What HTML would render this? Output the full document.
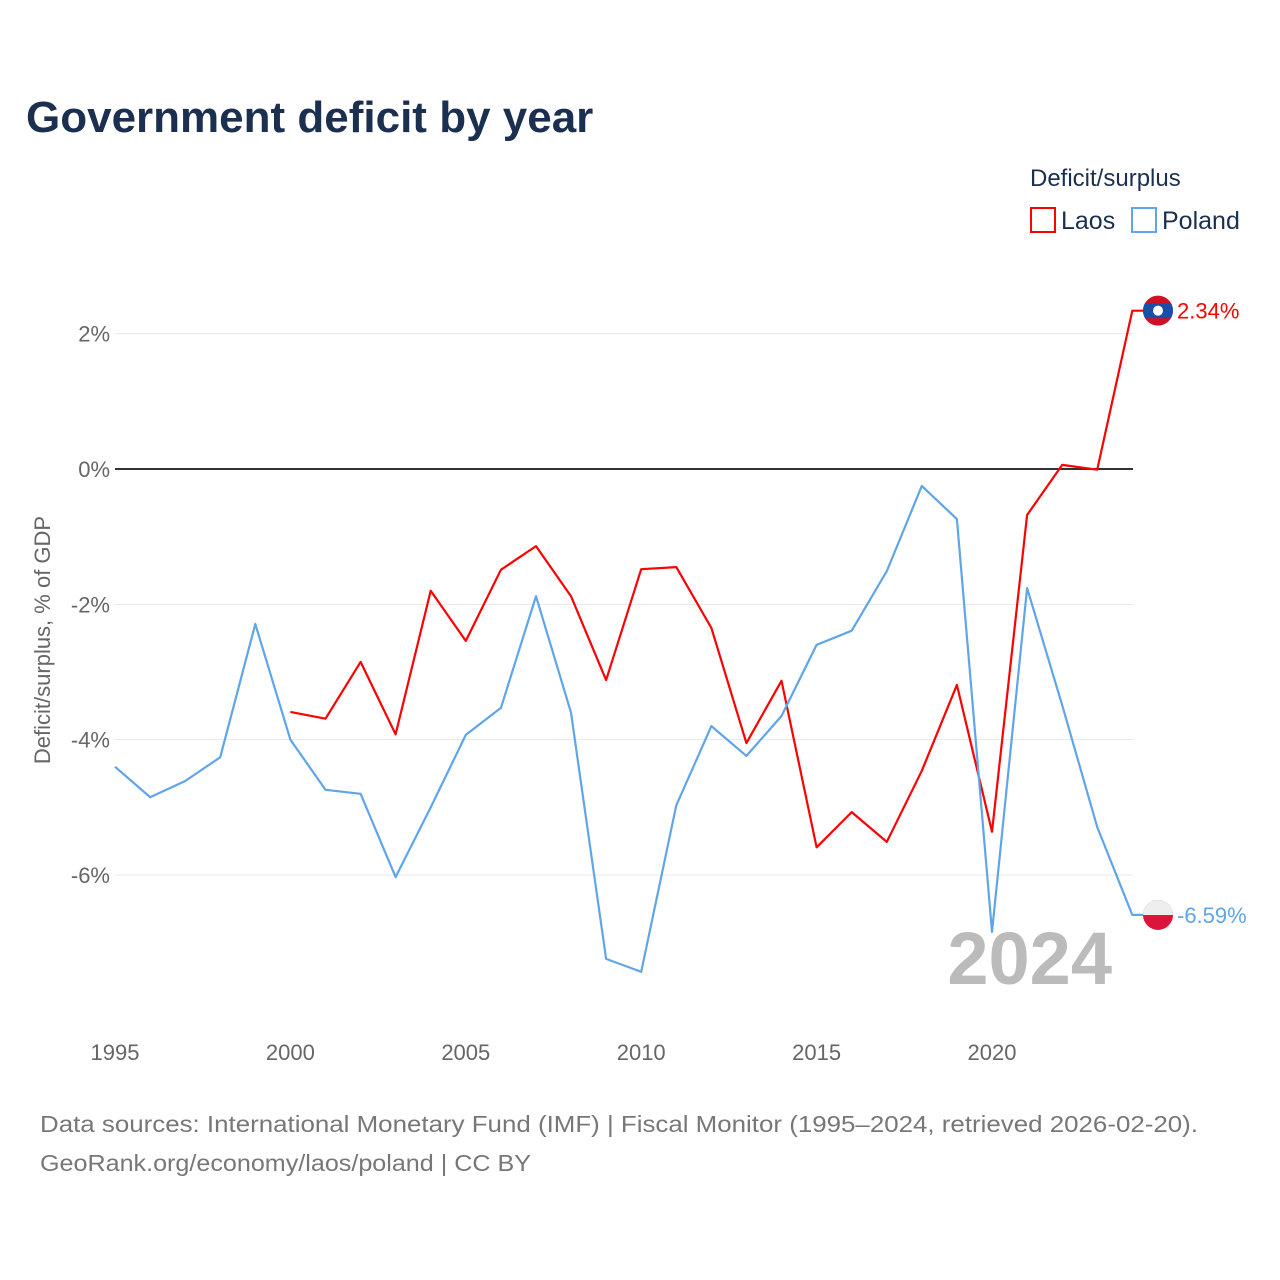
<!DOCTYPE html>
<html><head><meta charset="utf-8"><style>
body{margin:0;background:#fff;font-family:"Liberation Sans",sans-serif;}
#wrap{position:relative;width:1280px;height:1280px;overflow:hidden}
</style></head><body>
<div id="wrap">
<svg id="chart" width="1280" height="1280"></svg>
</div>
<script>
const years = [1995,1996,1997,1998,1999,2000,2001,2002,2003,2004,2005,2006,2007,2008,2009,2010,2011,2012,2013,2014,2015,2016,2017,2018,2019,2020,2021,2022,2023,2024];
const poland = [-4.40,-4.85,-4.61,-4.26,-2.29,-4.00,-4.74,-4.80,-6.03,-5.00,-3.93,-3.53,-1.88,-3.60,-7.24,-7.43,-4.97,-3.80,-4.24,-3.65,-2.60,-2.39,-1.51,-0.25,-0.74,-6.84,-1.76,-3.49,-5.29,-6.59];
const laos = [null,null,null,null,null,-3.59,-3.69,-2.85,-3.92,-1.80,-2.54,-1.49,-1.14,-1.88,-3.12,-1.48,-1.45,-2.35,-4.05,-3.13,-5.59,-5.07,-5.51,-4.46,-3.19,-5.36,-0.68,0.06,-0.01,2.34];
const yTicks = [2,0,-2,-4,-6];
const yTickLabels = ["2%","0%","-2%","-4%","-6%"];
const xTicks = [1995,2000,2005,2010,2015,2020];

const NS="http://www.w3.org/2000/svg";
const svg=document.getElementById('chart');
const X=y=>115+(y-1995)*35.08;
const Y=v=>469-v*67.67;
function mk(tag,attrs,text){const e=document.createElementNS(NS,tag);for(const k in attrs)e.setAttribute(k,attrs[k]);if(text!=null)e.textContent=text;svg.appendChild(e);return e;}

let t=mk('text',{x:26,y:132,'font-size':44,'font-weight':'bold',fill:'#1b3050'},'Government deficit by year');


t=mk('text',{x:1030,y:186,'font-size':24,fill:'#1b3050'},'Deficit/surplus');


let r=mk('rect',{x:1031,y:208,width:24,height:24,fill:'none',stroke:'#ff0000','stroke-width':2});


t=mk('text',{x:1061,y:229,'font-size':25,fill:'#1b3050'},'Laos');


r=mk('rect',{x:1132,y:208,width:24,height:24,fill:'none',stroke:'#5fa5ea','stroke-width':2});


t=mk('text',{x:1162,y:229,'font-size':25,fill:'#1b3050'},'Poland');



yTicks.forEach((v,i)=>{
  if(v!==0){const g=mk('line',{x1:115,x2:1133,y1:Y(v),y2:Y(v),stroke:'#e8e8e8','stroke-width':1});
  
  }
  const l=mk('text',{x:110,y:Y(v)+8,'font-size':22,fill:'#666','text-anchor':'end'},yTickLabels[i]);
  
  
});
xTicks.forEach(v=>{
  const l=mk('text',{x:X(v),y:1060,'font-size':22,fill:'#666','text-anchor':'middle'},String(v));
  
  
});
const zl=mk('line',{x1:115,x2:1133,y1:Y(0),y2:Y(0),stroke:'#333','stroke-width':2});


t=mk('text',{x:50,y:640,'font-size':22,fill:'#666','text-anchor':'middle',transform:'rotate(-90 50 640)'},'Deficit/surplus, % of GDP');


t=mk('text',{x:1112,y:984,'font-size':74,'font-weight':'bold',fill:'#bbb','text-anchor':'end'},'2024');



function series(vals,color,name){
  let d='';vals.forEach((v,i)=>{if(v==null)return;d+=(d?'L':'M')+X(years[i]).toFixed(1)+','+Y(v).toFixed(1);});
  const last=vals[vals.length-1];
  d+='L1150,'+Y(last).toFixed(1);
  const p=mk('path',{d:d,fill:'none',stroke:color,'stroke-width':2.2,'stroke-linejoin':'round'});
  
  
  return last;
}
const lv=series(laos,'#ff0000','laos');
const pv=series(poland,'#5fa5ea','poland');

// Laos flag
let cy=Y(lv);
const defs=mk('defs',{});
const cp=document.createElementNS(NS,'clipPath');cp.setAttribute('id','lc');
const cc=document.createElementNS(NS,'circle');cc.setAttribute('cx',1158);cc.setAttribute('cy',cy);cc.setAttribute('r',15);
cp.appendChild(cc);defs.appendChild(cp);
let c=mk('circle',{cx:1158,cy:cy,r:15,fill:'#ce1126'});


mk('rect',{x:1143,y:cy-7.5,width:30,height:15,fill:'#1a4fa8','clip-path':'url(#lc)'});
mk('circle',{cx:1158,cy:cy,r:5,fill:'#fff'});
t=mk('text',{x:1177,y:cy+8,'font-size':22,fill:'#ff0000'},lv.toFixed(2)+'%');


// Poland flag
cy=Y(pv);
c=mk('circle',{cx:1158,cy:cy,r:15,fill:'#dc143c'});


mk('path',{d:`M1143,${cy} A15,15 0 0 1 1173,${cy} Z`,fill:'#eee'});
t=mk('text',{x:1177,y:cy+8,'font-size':22,fill:'#5fa5ea'},pv.toFixed(2)+'%');



t=mk('text',{x:40,y:1132,'font-size':23,fill:'#777',textLength:1158,lengthAdjust:'spacingAndGlyphs'},'Data sources: International Monetary Fund (IMF) | Fiscal Monitor (1995–2024, retrieved 2026-02-20).');


t=mk('text',{x:40,y:1171,'font-size':23,fill:'#777',textLength:491,lengthAdjust:'spacingAndGlyphs'},'GeoRank.org/economy/laos/poland | CC BY');


</script>
</body></html>
